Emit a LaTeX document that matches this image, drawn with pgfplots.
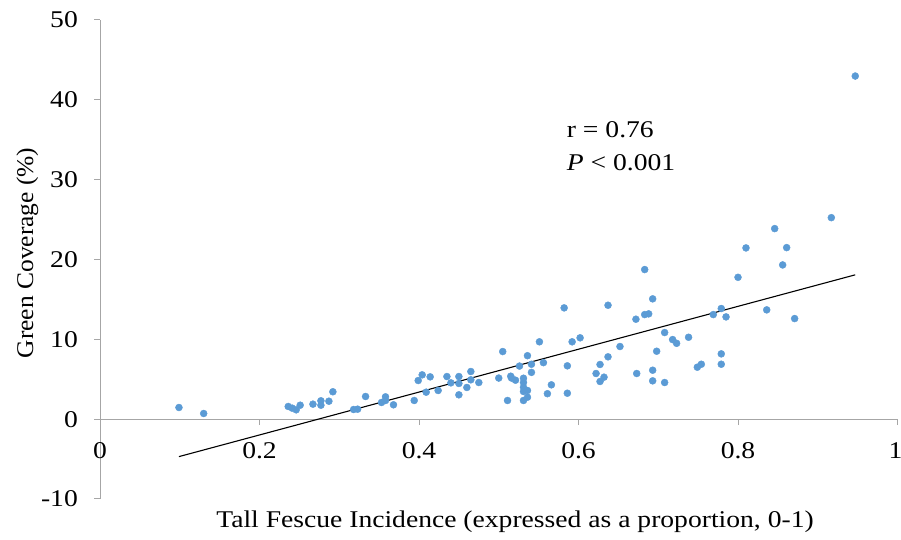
\documentclass[border=0pt]{standalone}
\usepackage{fontspec}
\setmainfont{Liberation Serif}[FakeStretch=1.15]
\newfontfamily\ylfont{Liberation Serif}[FakeStretch=1.06]
\usepackage{pgfplots}
\pgfplotsset{compat=1.18}
\definecolor{axgray}{HTML}{A6A6A6}
\definecolor{dotblue}{HTML}{5B9BD5}
\pgfplotstableread{
x y
0.099 1.46
0.130 0.71
0.236 1.59
0.241 1.38
0.246 1.17
0.251 1.75
0.267 1.88
0.277 2.30
0.277 1.75
0.287 2.25
0.292 3.43
0.318 1.21
0.323 1.25
0.333 2.84
0.353 2.09
0.358 2.80
0.358 2.34
0.368 1.80
0.394 2.34
0.399 4.84
0.404 5.55
0.409 3.38
0.414 5.30
0.424 3.59
0.435 5.34
0.440 4.55
0.450 5.34
0.450 4.47
0.450 3.05
0.460 3.97
0.465 5.97
0.465 4.93
0.475 4.59
0.500 5.15
0.505 8.47
0.511 2.34
0.515 5.38
0.516 5.15
0.521 4.88
0.526 6.65
0.531 5.13
0.531 4.59
0.531 4.00
0.531 3.47
0.536 3.59
0.536 2.75
0.531 2.34
0.536 7.95
0.541 6.88
0.541 5.86
0.551 9.69
0.556 7.08
0.561 3.19
0.566 4.30
0.582 13.94
0.586 6.68
0.586 3.25
0.592 9.69
0.602 10.19
0.622 5.72
0.627 6.85
0.627 4.72
0.632 5.26
0.637 7.81
0.637 14.27
0.652 9.10
0.672 12.52
0.673 5.72
0.683 13.10
0.688 13.19
0.693 15.07
0.693 6.13
0.693 4.80
0.698 8.51
0.708 10.85
0.708 4.59
0.718 9.97
0.723 9.50
0.738 10.26
0.683 18.74
0.749 6.51
0.754 6.88
0.769 13.10
0.779 13.86
0.785 12.81
0.779 8.18
0.779 6.88
0.800 17.77
0.810 21.45
0.836 13.69
0.856 19.32
0.861 21.49
0.871 12.60
0.917 25.24
0.846 23.87
0.947 42.98
}\data
\begin{document}
\begin{tikzpicture}
\useasboundingbox (0,0) rectangle (901pt,540pt);
\begin{axis}[
  at={(100pt,41pt)}, anchor=south west,
  scale only axis, width=797.5pt, height=479pt,
  xmin=0, xmax=1, ymin=-10, ymax=50,
  axis lines=middle,
  axis line style={axgray, line width=1pt, -},
  hide obscured x ticks=false, hide obscured y ticks=false,
  xtick={0,0.2,0.4,0.6,0.8,1}, ytick={-10,0,10,20,30,40,50},
  xticklabels={0,0.2,0.4,0.6,0.8,\makebox[0pt]{1\hspace{4pt}}},
  minor tick num=0,
  tick align=outside, major tick length=6pt,
  tick style={axgray, line width=1pt},
  /pgf/number format/assume math mode=true,
  ticklabel style={font=\fontsize{24}{24}\selectfont, text=black, inner sep=0pt},
  xticklabel style={anchor=base, yshift=-33.6pt},
  yticklabel style={anchor=east, xshift=-16pt},
  clip=false,
]
\addplot[only marks, mark=*, color=dotblue, mark size=3.5pt, mark options={draw=dotblue, fill=dotblue}] table[x=x, y=y] {\data};
\addplot[black, line width=1.1pt] coordinates {(0.099,-4.69) (0.947,18.08)};
\node[anchor=base west, inner sep=0pt, font=\fontsize{24}{24}\selectfont] at (axis cs:0.5852,35.32) {r = 0.76};
\node[anchor=base west, inner sep=0pt, font=\fontsize{24}{24}\selectfont] at (axis cs:0.5852,31.15) {\textit{P} < 0.001};
\node[anchor=base, inner sep=0pt, font=\fontsize{24}{24}\selectfont] at (axis cs:0.5204,-13.53) {Tall Fescue Incidence (expressed as a proportion, 0-1)};
\node[anchor=base, rotate=90, inner sep=0pt, font=\ylfont\fontsize{24}{24}\selectfont] at (axis cs:-0.084,20.82) {Green Coverage (\%)};
\end{axis}
\end{tikzpicture}
\end{document}
